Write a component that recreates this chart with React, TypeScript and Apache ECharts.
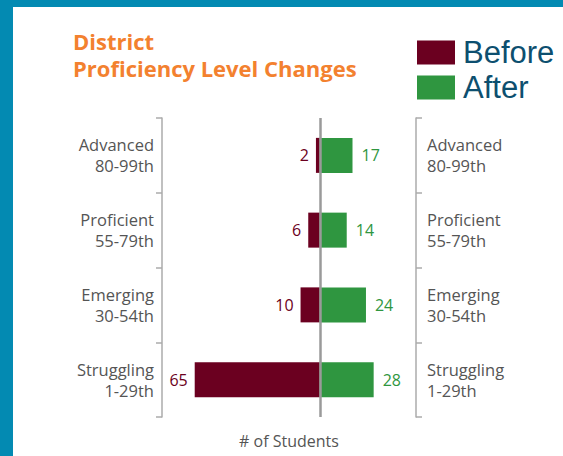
import React, { useEffect, useRef } from "react";
import * as echarts from "echarts";

const categories = ["Advanced\n80-99th", "Proficient\n55-79th", "Emerging\n30-54th", "Struggling\n1-29th"];
const beforeValues = [2, 6, 10, 65];
const afterValues = [17, 14, 24, 28];
const seriesNames = ["Before", "After"];
const titleText = "District\nProficiency Level Changes";
const axisName = "# of Students";

const FONT = "Open Sans";
const BEFORE_COLOR = "#6B0020";
const AFTER_COLOR = "#2F9640";
const AXIS_COLOR = "#ABABAB";
const LABEL_COLOR = "#555555";

export default function App() {
  const ref = useRef<HTMLDivElement>(null);
  useEffect(() => {
    if (!ref.current) return;
    const chart = echarts.init(ref.current, null, { renderer: "svg" });
    const yAxisCommon = {
      type: "category" as const,
      data: categories,
      inverse: true,
      axisLine: { show: true, onZero: false, lineStyle: { color: AXIS_COLOR, width: 1.5 } },
      axisTick: { show: true, length: 6, lineStyle: { color: AXIS_COLOR, width: 1.5 } },
      splitLine: { show: false },
    };
    chart.setOption({
      animation: false,
      textStyle: { fontFamily: FONT },
      graphic: [
        { type: "rect", shape: { x: 0, y: 0, width: 563, height: 7 }, style: { fill: "#038AB2" }, z: 100 },
        { type: "rect", shape: { x: 0, y: 0, width: 13, height: 456 }, style: { fill: "#038AB2" }, z: 100 },
      ],
      title: {
        text: titleText,
        left: 68,
        top: 22,
        textStyle: { fontFamily: FONT, fontSize: 22, fontWeight: "bold", color: "#F3812F", lineHeight: 27 },
      },
      legend: {
        orient: "vertical",
        left: 412,
        top: 32,
        itemWidth: 38,
        itemHeight: 24,
        itemGap: 4,
        icon: "rect",
        data: seriesNames,
        textStyle: { fontFamily: "Liberation Sans", fontSize: 31, color: "#0D4F6F", padding: [0, 0, 0, 3] },
      },
      grid: { left: 162, right: 147, top: 118, bottom: 39 },
      xAxis: {
        type: "value",
        min: -82,
        max: 50,
        axisLine: { show: false },
        axisTick: { show: false },
        axisLabel: { show: false },
        splitLine: { show: false },
        name: axisName,
        nameLocation: "middle",
        nameGap: 16,
        nameTextStyle: { fontFamily: FONT, fontSize: 16, color: LABEL_COLOR },
      },
      yAxis: [
        {
          ...yAxisCommon,
          position: "left",
          axisLabel: { fontFamily: FONT, fontSize: 16.5, lineHeight: 21, color: LABEL_COLOR, margin: 8, align: "right" },
        },
        {
          ...yAxisCommon,
          position: "right",
          axisLabel: { fontFamily: FONT, fontSize: 16.5, lineHeight: 21, color: LABEL_COLOR, margin: 11, align: "left" },
        },
      ],
      series: [
        {
          name: seriesNames[0],
          type: "bar",
          stack: "total",
          barWidth: 35,
          itemStyle: { color: BEFORE_COLOR },
          data: beforeValues.map((v) => -v),
          label: {
            show: true,
            position: "left",
            distance: 7,
            fontFamily: FONT,
            fontSize: 16,
            color: BEFORE_COLOR,
            formatter: (p: any) => String(Math.abs(p.value)),
          },
          markLine: {
            silent: true,
            symbol: "none",
            label: { show: false },
            lineStyle: { color: "#9A9A9A", width: 2.5, type: "solid" },
            data: [{ xAxis: 0 }],
            z: 10,
          },
        },
        {
          name: seriesNames[1],
          type: "bar",
          stack: "total",
          barWidth: 35,
          itemStyle: { color: AFTER_COLOR },
          data: afterValues,
          label: {
            show: true,
            position: "right",
            distance: 9,
            fontFamily: FONT,
            fontSize: 16,
            color: AFTER_COLOR,
          },
        },
      ],
    });
    return () => chart.dispose();
  }, []);
  return <div ref={ref} style={{ position: "fixed", left: 0, top: 0, width: 563, height: 456, background: "#fff" }} />;
}
